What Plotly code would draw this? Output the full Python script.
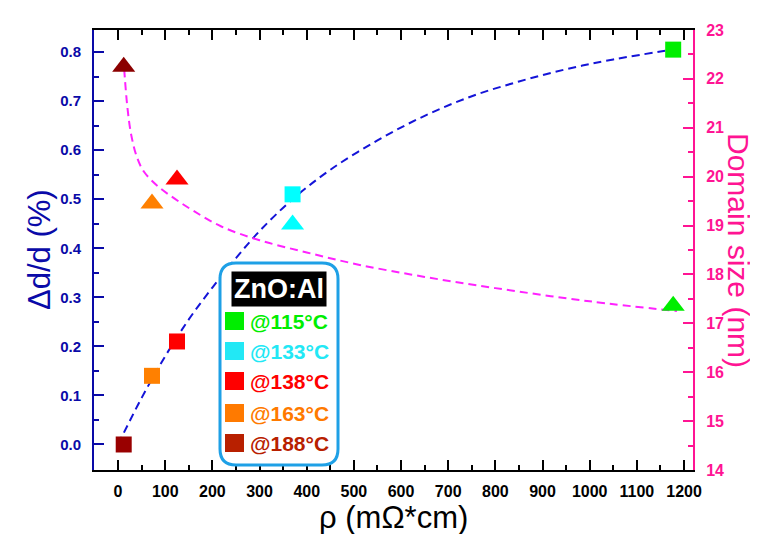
import plotly.graph_objects as go

# ---------------- data ----------------
temps = ["@188°C", "@163°C", "@138°C", "@133°C", "@115°C"]
rho = [12, 72, 125, 370, 1177]
delta_d = [0.0, 0.14, 0.21, 0.51, 0.805]
domain = [22.25, 19.45, 19.94, 19.02, 17.36]

fit_rho_dd = [0, 50, 100, 150, 200, 250, 300, 370, 450, 550, 650, 750, 850, 950, 1050, 1177]
fit_dd = [0.0, 0.095, 0.18, 0.255, 0.32, 0.38, 0.435, 0.50, 0.56, 0.62, 0.67, 0.71, 0.74, 0.765, 0.785, 0.805]

fit_rho_ds = [13, 20, 28, 40, 55, 85, 120, 160, 219, 300, 400, 510, 650, 800, 1000, 1185]
fit_ds = [22.2, 21.4, 20.85, 20.4, 20.1, 19.8, 19.55, 19.3, 18.98, 18.7, 18.45, 18.2, 17.95, 17.72, 17.45, 17.25]

x_ticks = list(range(0, 1201, 100))
y_ticks = [0.0, 0.1, 0.2, 0.3, 0.4, 0.5, 0.6, 0.7, 0.8]
legend_temps = ["@115°C", "@133°C", "@138°C", "@163°C", "@188°C"]

# ---------------- styles ----------------
sq_colors = ["#990000", "#FF8000", "#FF0000", "#00FFFF", "#00EE00"]
tri_colors = ["#8B0000", "#FF8000", "#FF0000", "#00FFFF", "#00EE00"]
legend_colors = ["#00EE00", "#22E8F5", "#FF0000", "#FF7A00", "#B82000"]
BLUE = "#0A0AA8"
PINK = "#FF1493"

L, R, T, B = 86, 73, 22, 72
W, H = 758, 534
pw, ph = W - L - R, H - T - B

def px(xp):
    return (xp - L) / pw

def py(yp):
    return (H - B - yp) / ph

fig = go.Figure()

fig.add_trace(go.Scatter(x=fit_rho_dd, y=fit_dd, mode="lines",
                         line=dict(color="#1414D8", width=2, dash="8px,5px", shape="spline"),
                         yaxis="y", showlegend=False, hoverinfo="skip"))
fig.add_trace(go.Scatter(x=fit_rho_ds, y=fit_ds, mode="lines",
                         line=dict(color="#FF22FF", width=2, dash="8px,5px", shape="spline"),
                         yaxis="y2", showlegend=False, hoverinfo="skip"))
fig.add_trace(go.Scatter(x=rho, y=delta_d, mode="markers", yaxis="y", showlegend=False,
                         marker=dict(symbol="square", size=16, color=sq_colors, line=dict(width=0))))
fig.add_trace(go.Scatter(x=rho, y=domain, mode="markers", yaxis="y2", showlegend=False,
                         marker=dict(symbol="triangle-up", size=20, color=tri_colors, line=dict(width=0))))

fig.update_layout(
    width=W, height=H,
    margin=dict(l=L, r=R, t=T, b=B, pad=0),
    paper_bgcolor="white", plot_bgcolor="white",
    font=dict(family="Liberation Sans, Arial, sans-serif"),
    xaxis=dict(range=[-51, 1219], tickmode="array", tickvals=x_ticks, ticktext=[str(v) for v in x_ticks],
               ticks="inside", ticklen=10, tickwidth=2, tickcolor="black",
               minor=dict(ticks="inside", ticklen=5, tickwidth=2, tickcolor="black", dtick=50, tick0=0),
               showline=True, linecolor="black", linewidth=2, mirror="ticks", showgrid=False, zeroline=False,
               tickfont=dict(family="Liberation Sans Narrow, Liberation Sans, Arial", size=16, color="black", weight="bold"),
               ticklabelstandoff=6),
    yaxis=dict(range=[-0.052, 0.845], tickmode="array", tickvals=y_ticks,
               ticktext=["%.1f" % v for v in y_ticks],
               ticks="inside", ticklen=10, tickwidth=2, tickcolor=BLUE,
               minor=dict(ticks="inside", ticklen=5, tickwidth=2, tickcolor=BLUE, dtick=0.05, tick0=0),
               showline=True, linecolor=BLUE, linewidth=2, showgrid=False, zeroline=False,
               tickfont=dict(size=15, color=BLUE, weight="bold"), ticklabelstandoff=8),
    yaxis2=dict(range=[14, 23], overlaying="y", side="right", dtick=1, tick0=14,
                ticks="inside", ticklen=10, tickwidth=2, tickcolor=PINK,
                minor=dict(ticks="inside", ticklen=5, tickwidth=2, tickcolor=PINK, dtick=0.5, tick0=14),
                showline=True, linecolor=PINK, linewidth=2, showgrid=False, zeroline=False,
                tickfont=dict(size=16, color=PINK, weight="bold"), ticklabelstandoff=8),
)

annotations = [
    dict(text="Δd/d (%)", x=px(31), y=0.5, xref="paper", yref="paper", textangle=-90, showarrow=False,
         font=dict(size=31, color=BLUE), xanchor="center", yanchor="middle"),
    dict(text="Domain size (nm)", x=px(731), y=0.5, xref="paper", yref="paper", textangle=90, showarrow=False,
         font=dict(size=30, color=PINK), xanchor="center", yanchor="middle"),
    dict(text="ρ (mΩ*cm)", x=0.5, y=py(509), xref="paper", yref="paper", showarrow=False,
         font=dict(size=31, color="black"), xanchor="center", yanchor="middle"),
    dict(text="<b>ZnO:Al</b>", x=px(271), y=py(281), xref="paper", yref="paper", showarrow=False,
         font=dict(size=27, color="white"), bgcolor="black", borderpad=2, xanchor="center", yanchor="middle"),
]

# rounded legend box
shapes = []
x0, x1, y0, y1, r = 212, 330, 255, 457, 16
path = (f"M {px(x0 + r)},{py(y0)} L {px(x1 - r)},{py(y0)} Q {px(x1)},{py(y0)} {px(x1)},{py(y0 + r)} "
        f"L {px(x1)},{py(y1 - r)} Q {px(x1)},{py(y1)} {px(x1 - r)},{py(y1)} "
        f"L {px(x0 + r)},{py(y1)} Q {px(x0)},{py(y1)} {px(x0)},{py(y1 - r)} "
        f"L {px(x0)},{py(y0 + r)} Q {px(x0)},{py(y0)} {px(x0 + r)},{py(y0)} Z")
shapes.append(dict(type="path", xref="paper", yref="paper", path=path, line=dict(color="#1EA0E6", width=3),
                   fillcolor="white", layer="above"))

row_y = [313, 343, 373, 405, 435]
for t, c, yy in zip(legend_temps, legend_colors, row_y):
    annotations.append(dict(text="<b>" + t + "</b>", x=px(240), y=py(yy), xref="paper", yref="paper", showarrow=False,
                            font=dict(size=21, color=c), xanchor="left", yanchor="middle"))
    shapes.append(dict(type="rect", xref="paper", yref="paper", x0=px(217), x1=px(236), y0=py(yy + 9), y1=py(yy - 9),
                       fillcolor=c, line=dict(width=0), layer="above"))

fig.update_layout(annotations=annotations, shapes=shapes)

fig.write_html("out.html")
